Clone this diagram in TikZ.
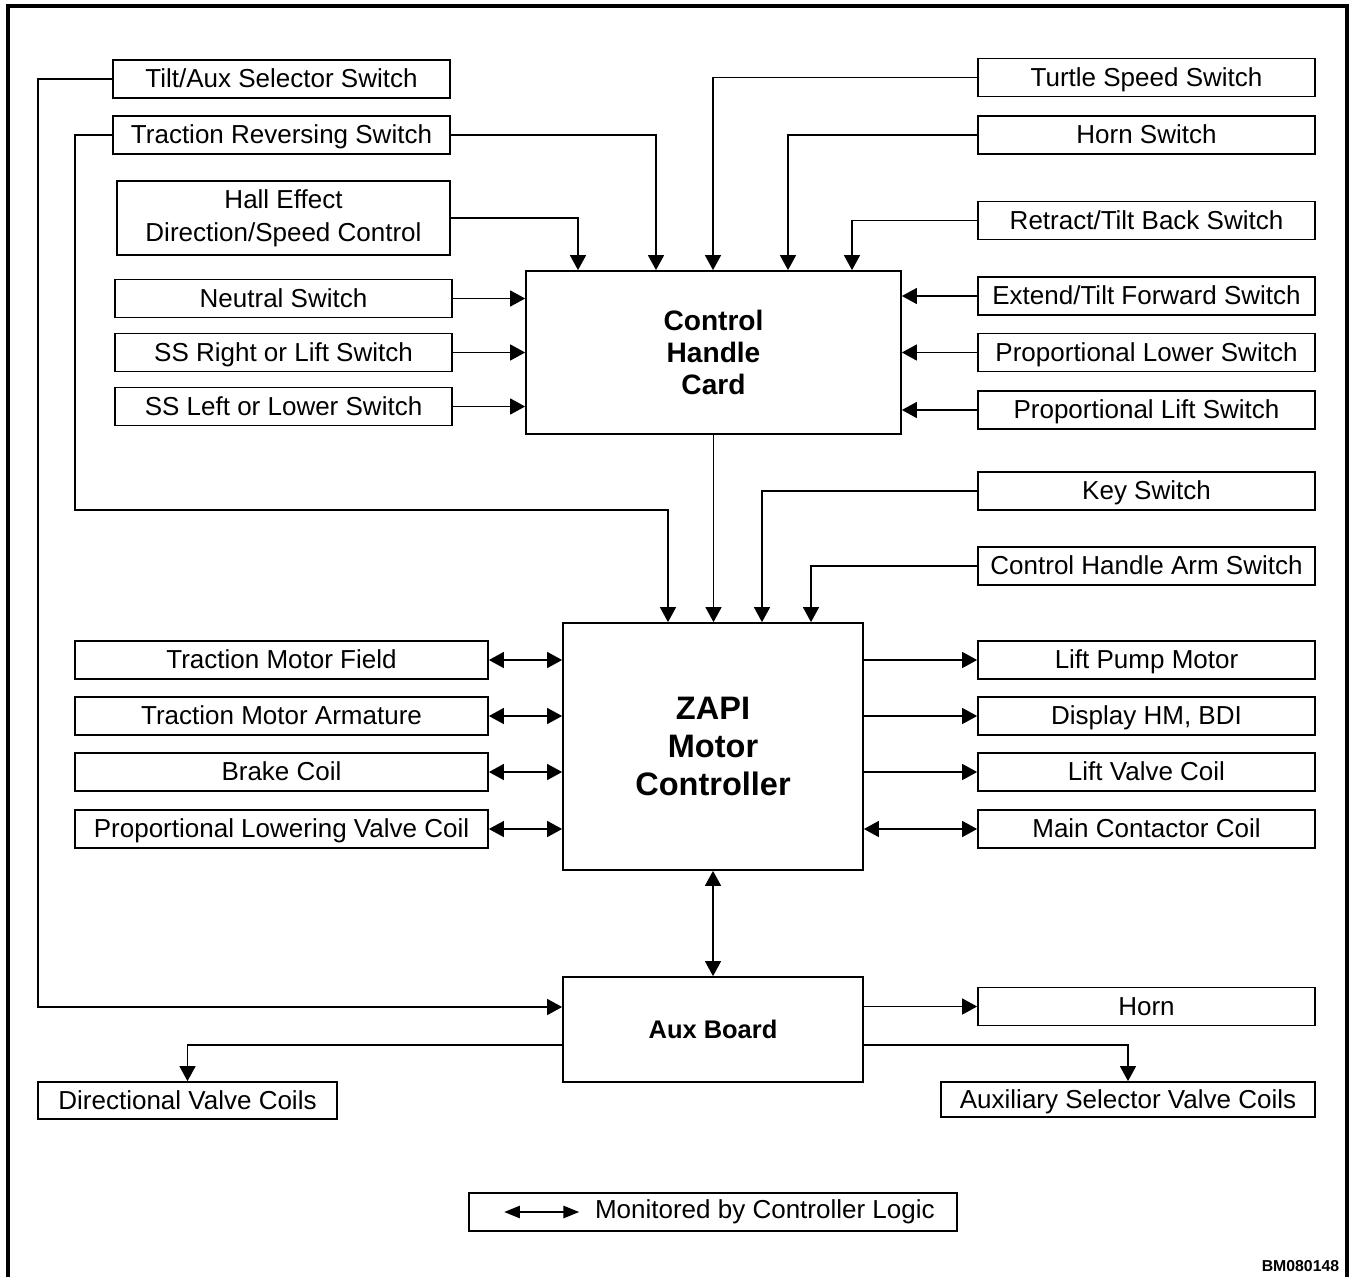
\documentclass[tikz,border=0pt]{standalone}
\usepackage{fontspec}
\setmainfont{Liberation Sans}
\usetikzlibrary{arrows.meta}

\newcommand{\lblfont}{\fontsize{14.8}{18}\selectfont}

\begin{document}
\begin{tikzpicture}[x=0.02cm, y=-0.02cm,
    >={Triangle[length=8.5pt,width=9pt]},
    line width=1pt,
    swbox/.style={draw, line width=1pt, inner sep=0pt, minimum height=0.76cm, font=\lblfont, text height=12pt, text depth=2pt},
    leftbox/.style={swbox, minimum width=6.74cm},
    rightbox/.style={swbox, minimum width=6.74cm},
    loadbox/.style={swbox, minimum width=8.26cm},
    cardbox/.style={draw, line width=1pt, inner sep=0pt, align=center, font=\bfseries\fontsize{16}{18.1}\selectfont},
    legarrow/.style={{Triangle[length=9pt,width=7pt]}-{Triangle[length=9pt,width=7pt]}}]
    \useasboundingbox (0,0) rectangle (1354,1277);
    \draw[line width=1.8pt] (8,1277) -- (8,6) -- (1347,6) -- (1347,1277);
    % switches on the left
    \node[leftbox] (tiltaux) at (281.5,79) {Tilt/Aux Selector Switch};
    \node[leftbox] (travrev) at (281.5,135) {Traction Reversing Switch};
    \node[draw, line width=1pt, inner sep=0pt, align=center, font=\lblfont, minimum width=6.66cm, minimum height=1.48cm] (hall) at (283.5,218) {Hall Effect\\[1pt]Direction/Speed Control};
    \node[leftbox] (neutral) at (283.5,298.5) {Neutral Switch};
    \node[leftbox] (ssright) at (283.5,352.5) {SS Right or Lift Switch};
    \node[leftbox] (ssleft) at (283.5,406.5) {SS Left or Lower Switch};
    % switches on the right
    \node[rightbox] (turtle) at (1146.5,77.5) {Turtle Speed Switch};
    \node[rightbox] (hornsw) at (1146.5,135) {Horn Switch};
    \node[rightbox] (retract) at (1146.5,220.5) {Retract/Tilt Back Switch};
    \node[rightbox] (extend) at (1146.5,296) {Extend/Tilt Forward Switch};
    \node[rightbox] (proplower) at (1146.5,352.5) {Proportional Lower Switch};
    \node[rightbox] (proplift) at (1146.5,410) {Proportional Lift Switch};
    \node[rightbox] (keysw) at (1146.5,491) {Key Switch};
    \node[rightbox] (armsw) at (1146.5,566) {Control Handle Arm Switch};
    % outputs
    \node[rightbox] (pump) at (1146.5,660) {Lift Pump Motor};
    \node[rightbox] (display) at (1146.5,716) {Display HM, BDI};
    \node[rightbox] (liftvalve) at (1146.5,772) {Lift Valve Coil};
    \node[rightbox] (contactor) at (1146.5,829) {Main Contactor Coil};
    \node[rightbox] (horn) at (1146.5,1006.5) {Horn};
    \node[swbox, minimum width=7.48cm, minimum height=0.7cm] (auxvalve) at (1128,1099.5) {Auxiliary Selector Valve Coils};
    \node[loadbox] (tmfield) at (281.5,660) {Traction Motor Field};
    \node[loadbox] (tmarm) at (281.5,716) {Traction Motor Armature};
    \node[loadbox] (brake) at (281.5,772) {Brake Coil};
    \node[loadbox] (plvalve) at (281.5,829) {Proportional Lowering Valve Coil};
    \node[swbox, minimum width=5.98cm, minimum height=0.74cm] (dirvalve) at (187.5,1100.5) {Directional Valve Coils};
    % main blocks
    \node[cardbox, minimum width=7.5cm, minimum height=3.26cm] (card) at (713.5,352.5) {Control\\Handle\\Card};
    \node[cardbox, minimum width=6cm, minimum height=4.94cm, font=\bfseries\fontsize{18.5}{21.8}\selectfont] (zapi) at (713,746.5) {ZAPI\\Motor\\Controller};
    \node[cardbox, minimum width=6cm, minimum height=2.1cm, font=\bfseries\fontsize{14.5}{17}\selectfont] (aux) at (713,1029.5) {Aux Board};
    % inputs to the card
    \draw[->] (hall.east) -| (578,0 |- card.north);
    \draw[->] (travrev.east) -| (656,0 |- card.north);
    \draw[->] (turtle.west) -| (713,0 |- card.north);
    \draw[->] (hornsw.west) -| (788,0 |- card.north);
    \draw[->] (retract.west) -| (852,0 |- card.north);
    \draw[->] (neutral.east) -- (neutral.east -| card.west);
    \draw[->] (ssright.east) -- (ssright.east -| card.west);
    \draw[->] (ssleft.east) -- (ssleft.east -| card.west);
    \draw[->] (extend.west) -- (extend.west -| card.east);
    \draw[->] (proplower.west) -- (proplower.west -| card.east);
    \draw[->] (proplift.west) -- (proplift.west -| card.east);
    % inputs to the controller
    \draw[->] (travrev.west) -| (75,510) -| (668,0 |- zapi.north);
    \draw[->] (card.south) -- (card.south |- zapi.north);
    \draw[->] (keysw.west) -| (762,0 |- zapi.north);
    \draw[->] (armsw.west) -| (811,0 |- zapi.north);
    % monitored loads
    \draw[<->] (tmfield.east) -- (tmfield.east -| zapi.west);
    \draw[<->] (tmarm.east) -- (tmarm.east -| zapi.west);
    \draw[<->] (brake.east) -- (brake.east -| zapi.west);
    \draw[<->] (plvalve.east) -- (plvalve.east -| zapi.west);
    \draw[->] (pump.west -| zapi.east) -- (pump.west);
    \draw[->] (display.west -| zapi.east) -- (display.west);
    \draw[->] (liftvalve.west -| zapi.east) -- (liftvalve.west);
    \draw[<->] (contactor.west -| zapi.east) -- (contactor.west);
    \draw[<->] (zapi.south) -- (aux.north);
    % aux board
    \draw[->] (tiltaux.west) -| (38,1007) -- (aux.west |- 0,1007);
    \draw[->] (horn.west -| aux.east) -- (horn.west);
    \draw[->] (aux.west |- 0,1045) -| (dirvalve.north);
    \draw[->] (aux.east |- 0,1045) -| (auxvalve.north);
    % legend
    \node[draw, line width=1pt, inner sep=0pt, minimum width=9.76cm, minimum height=0.76cm] (legend) at (713,1212) {};
    \draw[legarrow] ([xshift=0.72cm]legend.west) -- ++(75,0);
    \node[anchor=west, inner sep=0pt, font=\lblfont] (legtext) at ([xshift=2.52cm]legend.west) {Monitored by Controller Logic};
    \node[anchor=south east, inner sep=0pt, font=\bfseries\fontsize{9}{10}\selectfont] (code) at (1340,1273) {BM080148};
\end{tikzpicture}
\end{document}
